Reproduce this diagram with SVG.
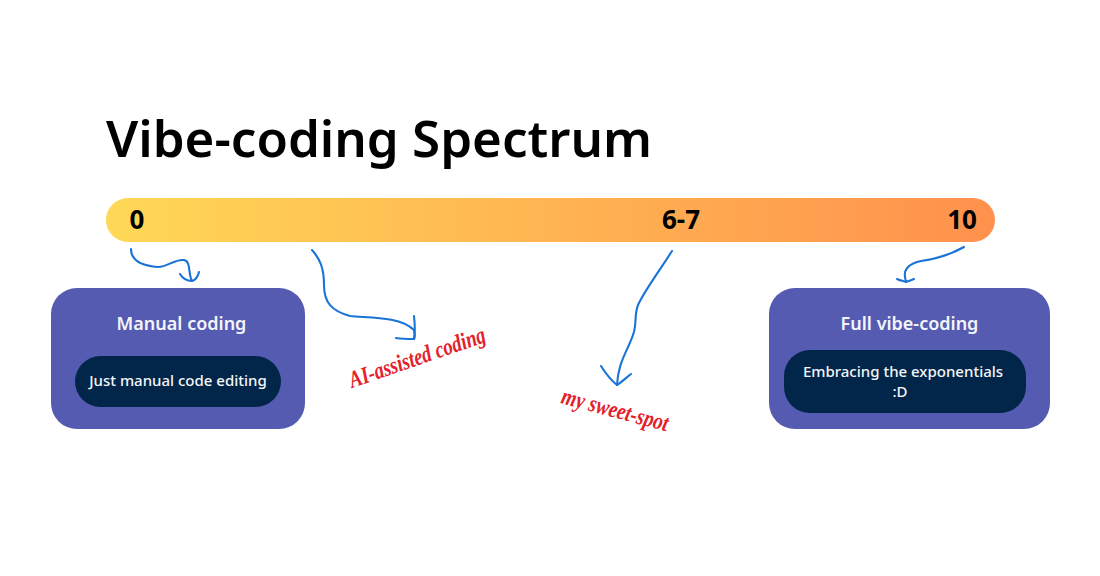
<svg xmlns="http://www.w3.org/2000/svg" width="1100" height="576" viewBox="0 0 1100 576">
<style>
.t{font-family:"Noto Sans","Open Sans",sans-serif;text-anchor:middle}
.title{font-family:"Noto Sans","Open Sans",sans-serif;font-size:51px;font-weight:600;fill:#000}
.num{font-size:26px;font-weight:700;fill:#000}
.h{font-size:18px;font-weight:600;fill:#f4f5fb}
.b{font-size:15px;font-weight:500;fill:#f4f6f8}
.card{fill:#545bb0}
.pill{fill:#02264a}
.c path{fill:none;stroke:#1a73d6;stroke-width:2.1;stroke-linecap:round;stroke-linejoin:round}
.hand{font-family:"Liberation Serif",serif;font-style:italic;font-weight:700;fill:#e4202a;font-size:24px}
</style>
<defs><linearGradient id="g" x1="0" y1="0" x2="1" y2="0"><stop offset="0" stop-color="#ffd856"/><stop offset="1" stop-color="#ff914d"/></linearGradient></defs>
<rect width="1100" height="576" fill="#fff"/>
<g id="title"><text class="title" x="106" y="157" textLength="546" lengthAdjust="spacingAndGlyphs">Vibe-coding Spectrum</text></g>
<g id="bar"><rect x="106" y="198" width="889" height="44" rx="22" fill="url(#g)"/>
<text class="t num" x="137" y="229">0</text>
<text class="t num" x="681" y="229">6-7</text>
<text class="t num" x="962" y="229">10</text></g>
<g id="manual"><rect class="card" x="51" y="288" width="254" height="141" rx="26"/>
<text class="t h" x="181.500" y="330">Manual coding</text>
<rect class="pill" x="75" y="356" width="206" height="51" rx="25.500"/>
<text class="t b" x="178" y="386">Just manual code editing</text></g>
<g id="full"><rect class="card" x="769" y="288" width="281" height="141" rx="26"/>
<text class="t h" x="909.500" y="330">Full vibe-coding</text>
<rect class="pill" x="784" y="350" width="242" height="63" rx="26"/>
<text class="t b" x="903" y="377">Embracing the exponentials</text>
<text class="t b" x="900" y="397">:D</text></g>
<g id="connectors" class="c">
<path d="M131 249C131 262 145 266 158 267C168 267 174 259 184 260C191 261 188 274 192 281"/>
<path d="M180 274C183 279 188 281 192 281C196 280 198 276 199 272"/>
<path d="M312 250C320 259 324 268 324 285C324 303 332 311 350 316C368 318 400 316 414 330C415 335 415 338 414 339"/>
<path d="M414 316C415 325 415 333 414 339C408 339 402 339 396 338"/>
<path d="M672 251C660 270 645 290 638 305C634 315 637 325 633 335C628 350 618 362 617 385"/>
<path d="M601 366C606 374 612 381 617 385C622 382 627 377 631 374"/>
<path d="M964 247C950 255 935 259 921 261C908 264 902 270 906 281"/>
<path d="M897 279C901 281 904 281 906 282C909 281 912 280 914 279"/>
</g>
<g id="note-ai"><text class="hand" transform="translate(352 388) rotate(-19)" textLength="143" lengthAdjust="spacingAndGlyphs">AI-assisted coding</text></g>
<g id="note-sweet"><text class="hand" transform="translate(560 403) rotate(15)" textLength="110" lengthAdjust="spacingAndGlyphs">my sweet-spot</text></g>
</svg>
